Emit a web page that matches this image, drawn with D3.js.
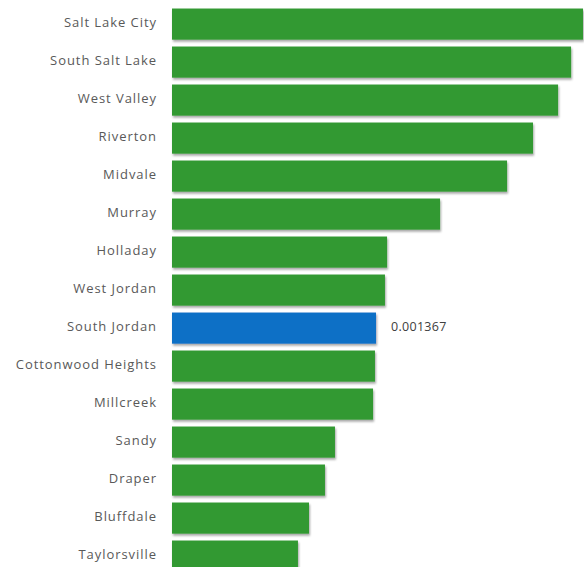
<!DOCTYPE html>
<html>
<head>
<meta charset="utf-8">
<script src="https://cdn.jsdelivr.net/npm/d3@7"></script>
<style>
    body { margin: 0; background: #fff; }
    text { font-family: "Open Sans", sans-serif; }
</style>
</head>
<body>
<div id="chart"></div>
<script>
// data
var cities = ["Salt Lake City", "South Salt Lake", "West Valley", "Riverton", "Midvale",
    "Murray", "Holladay", "West Jordan", "South Jordan", "Cottonwood Heights",
    "Millcreek", "Sandy", "Draper", "Bluffdale", "Taylorsville"];
var values = [0.002754, 0.002674, 0.002587, 0.002419, 0.002245,
    0.001796, 0.001441, 0.001427, 0.001367, 0.001360,
    0.001347, 0.001092, 0.001025, 0.000918, 0.000844];
var highlight = "South Jordan";

var width = 584, height = 567;
var data = cities.map((c, i) => ({ name: c, value: values[i] }));

var svg = d3.select("#chart").append("svg")
    .attr("width", width)
    .attr("height", height);

var defs = svg.append("defs");
defs.append("filter")
    .attr("id", "shadow")
    .attr("x", "-5%").attr("y", "-20%")
    .attr("width", "115%").attr("height", "160%")
    .append("feDropShadow")
    .attr("dx", 1).attr("dy", 2)
    .attr("stdDeviation", 1.2)
    .attr("flood-color", "#000")
    .attr("flood-opacity", 0.35);

var x = d3.scaleLinear()
    .domain([0, 0.002754])
    .range([172, 583]);

var y = d3.scaleBand()
    .domain(cities)
    .range([5.1, 5.1 + 15 * 38])
    .paddingInner(0.18)
    .paddingOuter(0.09);

svg.append("g")
    .selectAll("rect")
    .data(data)
    .enter()
    .append("rect")
    .attr("x", x(0))
    .attr("y", d => y(d.name))
    .attr("width", d => x(d.value) - x(0))
    .attr("height", y.bandwidth())
    .attr("fill", d => d.name === highlight ? "#0f6fc6" : "#339933")
    .attr("filter", "url(#shadow)");

// category labels
svg.append("g")
    .selectAll("text")
    .data(data)
    .enter()
    .append("text")
    .attr("x", 157)
    .attr("y", d => y(d.name) + y.bandwidth() / 2)
    .attr("dy", "0.25em")
    .attr("text-anchor", "end")
    .attr("font-size", 13)
    .attr("letter-spacing", "0.95px")
    .attr("fill", "#595959")
    .text(d => d.name);

// value label on the highlighted bar
var hl = data.find(d => d.name === highlight);
svg.append("text")
    .attr("x", x(hl.value) + 15)
    .attr("y", y(hl.name) + y.bandwidth() / 2)
    .attr("dy", "0.25em")
    .attr("font-size", 12.5)
    .attr("letter-spacing", "0.3px")
    .attr("fill", "#404040")
    .text(hl.value.toFixed(6));
</script>
</body>
</html>
